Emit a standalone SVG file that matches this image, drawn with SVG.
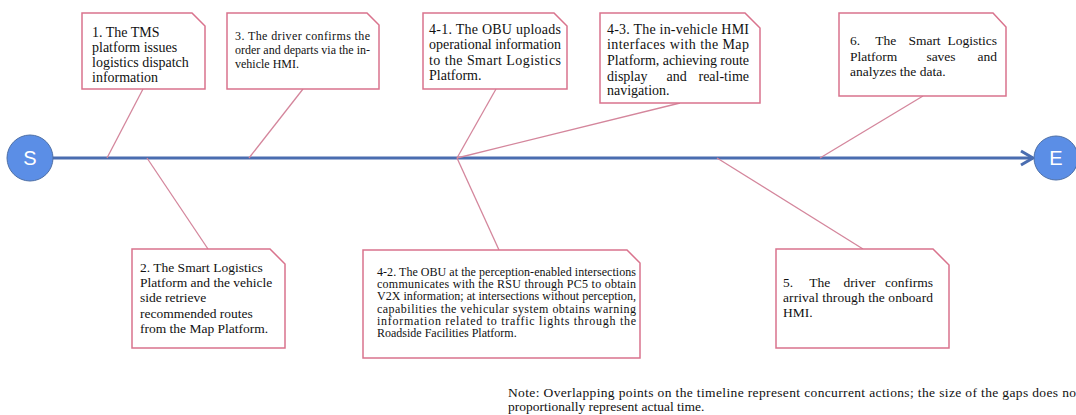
<svg xmlns="http://www.w3.org/2000/svg" width="1076" height="415" viewBox="0 0 1076 415">
<style>
.box{fill:#fff;stroke:#d9738d;stroke-width:1.5}
.t{font-family:"Liberation Serif","Times New Roman",serif;fill:#111}
.conn{stroke:#d4869c;stroke-width:1.3;fill:none}
.axis{stroke:#4a6db0;stroke-width:3;fill:none}
.circ{fill:#5b8ee6;stroke:#4d6fa6;stroke-width:1}
.cl{font-family:"Liberation Sans",Arial,sans-serif;font-size:20px;fill:#fff;text-anchor:middle}
</style>
<rect width="1076" height="415" fill="#fff"/>
<g id="connectors">
<line class="axis" x1="53" y1="158" x2="1033" y2="158"/>
<polyline class="axis" points="1021,151 1033,158 1021,165" stroke-width="2.5"/>
<line class="conn" x1="143" y1="89" x2="107" y2="158"/>
<line class="conn" x1="303" y1="89" x2="249" y2="158"/>
<line class="conn" x1="147" y1="158" x2="208" y2="249"/>
<line class="conn" x1="496" y1="89" x2="457" y2="158"/>
<line class="conn" x1="680" y1="103" x2="457" y2="158"/>
<line class="conn" x1="457" y1="158" x2="499" y2="250"/>
<line class="conn" x1="717" y1="158" x2="863" y2="249"/>
<line class="conn" x1="820" y1="158" x2="923" y2="96"/>
</g>
<g id="start">
<circle class="circ" cx="30" cy="158" r="23"/>
<text class="cl" x="30" y="165">S</text>
</g>
<g id="end">
<circle class="circ" cx="1056" cy="158" r="22"/>
<text class="cl" x="1056" y="165">E</text>
</g>
<g id="step1">
<polygon class="box" points="82,13 192,13 205,26 205,89 82,89"/>
<text class="t" font-size="14">
<tspan x="92" y="37">1. The TMS</tspan>
<tspan x="92" y="52">platform issues</tspan>
<tspan x="92" y="67">logistics dispatch</tspan>
<tspan x="92" y="82">information</tspan>
</text>
</g>
<g id="step3">
<polygon class="box" points="227,13 367,13 379,25 379,89 227,89"/>
<text class="t" font-size="12" x="235" y="40" textLength="135" lengthAdjust="spacing">3. The driver confirms the</text>
<text class="t" font-size="12" x="235" y="54" textLength="135" lengthAdjust="spacing">order and departs via the in-</text>
<text class="t" font-size="12" x="235" y="68">vehicle HMI.</text>
</g>
<g id="step4-1">
<polygon class="box" points="423,13 554,13 567,26 567,89 423,89"/>
<text class="t" font-size="14" x="429" y="34" textLength="132" lengthAdjust="spacing">4-1. The OBU uploads</text>
<text class="t" font-size="14" x="429" y="49" textLength="132" lengthAdjust="spacing">operational information</text>
<text class="t" font-size="14" x="429" y="65" textLength="132" lengthAdjust="spacing">to the Smart Logistics</text>
<text class="t" font-size="14" x="429" y="80">Platform.</text>
</g>
<g id="step4-3">
<polygon class="box" points="600,13 745,13 760,28 760,103 600,103"/>
<text class="t" font-size="14" x="607" y="34" textLength="142" lengthAdjust="spacing">4-3. The in-vehicle HMI</text>
<text class="t" font-size="14" x="607" y="49" textLength="142" lengthAdjust="spacing">interfaces with the Map</text>
<text class="t" font-size="14" x="607" y="65" textLength="142" lengthAdjust="spacing">Platform, achieving route</text>
<text class="t" font-size="14" y="81"><tspan x="607">display</tspan><tspan x="663"> and</tspan><tspan x="749" text-anchor="end"> real-time</tspan></text>
<text class="t" font-size="14" x="607" y="95">navigation.</text>
</g>
<g id="step6">
<polygon class="box" points="839,13 993,13 1006,27 1006,96 839,96"/>
<text class="t" font-size="13.5" y="45"><tspan x="850">6.</tspan><tspan x="872"> The</tspan><tspan x="905"> Smart</tspan><tspan x="997" text-anchor="end"> Logistics</tspan></text>
<text class="t" font-size="13.5" y="61"><tspan x="850">Platform</tspan><tspan x="923"> saves</tspan><tspan x="997" text-anchor="end"> and</tspan></text>
<text class="t" font-size="13.5" x="850" y="76">analyzes the data.</text>
</g>
<g id="step2">
<polygon class="box" points="132,249 270,249 285,264 285,348 132,348"/>
<text class="t" font-size="13.5">
<tspan x="140" y="272">2. The Smart Logistics</tspan>
<tspan x="140" y="287">Platform and the vehicle</tspan>
<tspan x="140" y="302">side retrieve</tspan>
<tspan x="140" y="318">recommended routes</tspan>
<tspan x="140" y="333">from the Map Platform.</tspan>
</text>
</g>
<g id="step4-2">
<polygon class="box" points="363,250 627,250 640,263 640,358 363,358"/>
<text class="t" font-size="12" x="377" y="276" textLength="259" lengthAdjust="spacing">4-2. The OBU at the perception-enabled intersections</text>
<text class="t" font-size="12" x="377" y="288" textLength="259" lengthAdjust="spacing">communicates with the RSU through PC5 to obtain</text>
<text class="t" font-size="12" x="377" y="300" textLength="259" lengthAdjust="spacing">V2X information; at intersections without perception,</text>
<text class="t" font-size="12" x="377" y="313" textLength="259" lengthAdjust="spacing">capabilities the vehicular system obtains warning</text>
<text class="t" font-size="12" x="377" y="325" textLength="259" lengthAdjust="spacing">information related to traffic lights through the</text>
<text class="t" font-size="12" x="377" y="337">Roadside Facilities Platform.</text>
</g>
<g id="step5">
<polygon class="box" points="776,249 933,249 949,265 949,348 776,348"/>
<text class="t" font-size="13.5" y="287"><tspan x="783">5.</tspan><tspan x="806"> The</tspan><tspan x="840"> driver</tspan><tspan x="933" text-anchor="end"> confirms</tspan></text>
<text class="t" font-size="13.5" x="783" y="302" textLength="150" lengthAdjust="spacing">arrival through the onboard</text>
<text class="t" font-size="13.5" x="783" y="317">HMI.</text>
</g>
<g id="note">
<text class="t" font-size="13.5" x="508" y="397" textLength="568" lengthAdjust="spacing">Note: Overlapping points on the timeline represent concurrent actions; the size of the gaps does no</text>
<text class="t" font-size="13.5" x="508" y="411">proportionally represent actual time.</text>
</g>
</svg>
